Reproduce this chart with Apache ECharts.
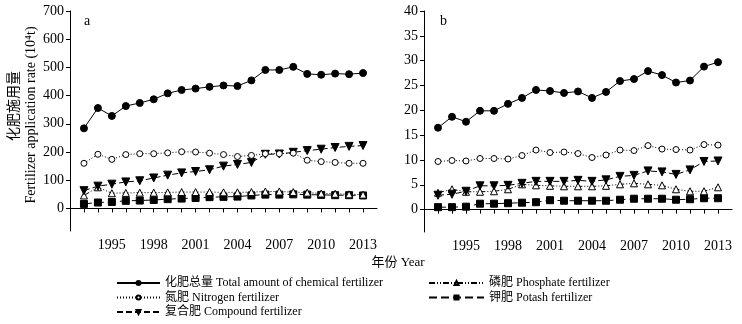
<!DOCTYPE html>
<html>
<head>
<meta charset="utf-8">
<script src="https://cdn.jsdelivr.net/npm/echarts@6/dist/echarts.min.js"></script>
<style>
  html, body { margin: 0; padding: 0; background: #fff; }
  #chart { width: 742px; height: 324px; }
</style>
</head>
<body>
<div id="chart"></div>
<script>
// Years 1993–2013
const years = [1993,1994,1995,1996,1997,1998,1999,2000,2001,2002,2003,2004,2005,2006,2007,2008,2009,2010,2011,2012,2013];
const yearLabels = [1995,1998,2001,2004,2007,2010,2013];

// Panel a (10^4 t)
const totalA     = [284,356,328,363,374,387,408,420,425,431,436,434,454,491,491,502,477,474,478,476,480];
const nitrogenA  = [160,192,174,191,194,194,197,201,200,196,191,184,188,194,194,196,171,166,163,160,160];
const compoundA  = [63,79,86,94,98,108,118,126,131,137,150,156,163,192,193,199,205,210,216,220,223];
const phosphateA = [46,75,54,55,56,56,57,58,58,58,57,57,58,60,60,58,56,53,52,50,49];
const potashA    = [16,21,23,27,28,30,33,35,37,40,41,42,46,49,49,50,49,48,47,47,46];
const yTicksA    = [0,100,200,300,400,500,600,700];

// Panel b (10^4 t)
const totalB     = [16.5,18.7,17.7,19.9,19.9,21.3,22.5,24.1,23.9,23.5,23.8,22.5,23.7,25.9,26.3,27.9,27.1,25.6,26.0,28.8,29.7];
const nitrogenB  = [9.7,9.9,9.8,10.3,10.3,10.2,10.9,12.0,11.5,11.6,11.3,10.5,11.0,12.0,11.9,12.9,12.2,12.1,12.0,13.1,13.0];
const compoundB  = [2.9,3.1,3.7,4.8,4.8,4.9,5.3,5.7,5.7,5.7,5.9,5.7,6.0,6.7,6.9,7.8,7.6,7.1,8.0,9.7,9.8];
const phosphateB = [3.4,4.1,3.6,3.6,3.7,4.1,5.1,4.9,4.8,4.7,4.7,4.7,4.8,5.1,5.3,5.1,4.9,4.1,3.7,3.7,4.5];
const potashB    = [0.5,0.5,0.6,1.2,1.2,1.3,1.4,1.5,1.9,1.8,1.8,1.8,1.8,2.0,2.2,2.2,2.2,2.0,2.1,2.3,2.3];
const yTicksB    = [0,5,10,15,20,25,30,35,40];

const names = {
  total: '化肥总量 Total amount of chemical fertilizer',
  nitrogen: '氮肥 Nitrogen fertilizer',
  compound: '复合肥 Compound fertilizer',
  phosphate: '磷肥 Phosphate fertilizer',
  potash: '钾肥 Potash fertilizer'
};

const FONT = "'Liberation Serif', 'Noto Sans CJK SC', serif";
const INK = '#000';

const pair = arr => arr.map((v, i) => [years[i], v]);

// Visual style of each fertilizer line
const styles = {
  total:     { symbol: 'circle',   filled: true,  rotate: 0,   dash: 'solid',              size: 7 },
  nitrogen:  { symbol: 'circle',   filled: false, rotate: 0,   dash: [1, 2],               size: 6 },
  compound:  { symbol: 'triangle', filled: true,  rotate: 180, dash: [6, 3],               size: 8 },
  phosphate: { symbol: 'triangle', filled: false, rotate: 0,   dash: [6, 2, 1, 2, 1, 2],   size: 7 },
  potash:    { symbol: 'rect',     filled: true,  rotate: 0,   dash: [8, 4],               size: 7 }
};

function makeSeries(key, data, idx) {
  const s = styles[key];
  return {
    name: names[key],
    type: 'line',
    xAxisIndex: idx,
    yAxisIndex: idx,
    data: pair(data),
    symbol: s.symbol,
    symbolSize: s.size,
    symbolRotate: s.rotate,
    showAllSymbol: true,
    lineStyle: { color: INK, width: 1, type: s.dash },
    itemStyle: { color: s.filled ? INK : '#fff', borderColor: INK, borderWidth: 1 },
    emphasis: { disabled: true },
    animation: false
  };
}

const order = ['potash', 'phosphate', 'compound', 'nitrogen', 'total'];
const seriesA = { total: totalA, nitrogen: nitrogenA, compound: compoundA, phosphate: phosphateA, potash: potashA };
const seriesB = { total: totalB, nitrogen: nitrogenB, compound: compoundB, phosphate: phosphateB, potash: potashB };
const series = [];
order.forEach(k => series.push(makeSeries(k, seriesA[k], 0)));
order.forEach(k => series.push(makeSeries(k, seriesB[k], 1)));

function xAxis(gridIndex) {
  return {
    type: 'value', gridIndex, min: 1992, max: 2014,
    axisLine: { lineStyle: { color: INK, width: 1 } },
    axisTick: { customValues: years, length: 4, lineStyle: { color: INK } },
    axisLabel: { customValues: yearLabels, formatter: v => String(v), color: INK, fontFamily: FONT, fontSize: 14, margin: 7 },
    splitLine: { show: false }
  };
}
function yAxis(gridIndex, min, max, ticks) {
  return {
    type: 'value', gridIndex, min, max,
    axisLine: { show: true, lineStyle: { color: INK, width: 1 } },
    axisTick: { show: true, customValues: ticks, length: 4, lineStyle: { color: INK } },
    axisLabel: { customValues: ticks, formatter: v => String(v), color: INK, fontFamily: FONT, fontSize: 14, margin: 6 },
    splitLine: { show: false }
  };
}

const legendText = { color: INK, fontFamily: FONT, fontSize: 12, lineHeight: 14 };

const chart = echarts.init(document.getElementById('chart'), null, { renderer: 'canvas' });
chart.setOption({
  backgroundColor: '#fff',
  animation: false,
  grid: [
    { left: 70, top: 11, width: 307, height: 220 },
    { left: 424, top: 11, width: 308, height: 221 }
  ],
  xAxis: [xAxis(0), xAxis(1)],
  yAxis: [yAxis(0, -80, 700, yTicksA), yAxis(1, -4.5, 40, yTicksB)],
  legend: [
    {
      data: [names.total, names.nitrogen, names.compound],
      orient: 'vertical', left: 116, top: 276, height: 48, padding: 0,
      itemWidth: 43, itemHeight: 5, itemGap: 0.5,
      textStyle: legendText,
      selectedMode: false
    },
    {
      data: [names.phosphate, names.potash],
      orient: 'vertical', left: 428, top: 276, height: 48, padding: 0,
      itemWidth: 55, itemHeight: 5, itemGap: 0.5,
      textStyle: legendText,
      selectedMode: false
    }
  ],
  graphic: [
    { type: 'text', left: 84, top: 14, style: { text: 'a', font: `14px ${FONT}`, fill: INK } },
    { type: 'text', left: 440, top: 14, style: { text: 'b', font: `14px ${FONT}`, fill: INK } },
    { type: 'text', x: 398, y: 263, style: { text: '年份 Year', font: `13px ${FONT}`, fill: INK, align: 'center', verticalAlign: 'middle' } },
    { type: 'text', x: 14, y: 106, rotation: Math.PI / 2, style: { text: '化肥施用量', font: `14px ${FONT}`, fill: INK, align: 'center', verticalAlign: 'middle' } },
    { type: 'text', x: 31, y: 115, rotation: Math.PI / 2, style: { text: 'Fertilizer application rate (10⁴t)', font: `14px ${FONT}`, fill: INK, align: 'center', verticalAlign: 'middle' } }
  ],
  series
});
</script>
</body>
</html>
